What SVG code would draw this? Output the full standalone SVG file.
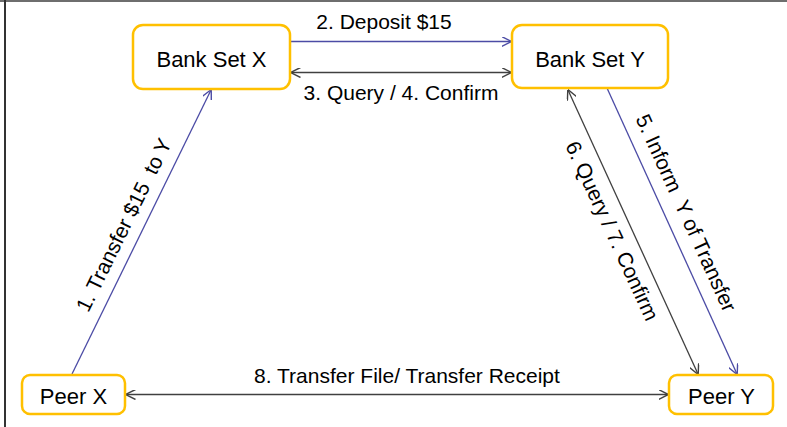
<svg xmlns="http://www.w3.org/2000/svg" width="787" height="427" viewBox="0 0 787 427">
  <style>
    .box { fill: #ffffff; stroke: #FFC000; stroke-width: 2.5; }
    .node-label { font-family: "Liberation Sans", Arial, sans-serif; font-size: 22px; fill: #000000; text-anchor: middle; }
    .edge-label { font-family: "Liberation Sans", Arial, sans-serif; font-size: 21px; fill: #000000; text-anchor: middle; }
    .blue { stroke: #4B4BA5; stroke-width: 1.3; fill: none; }
    .dark { stroke: #404040; stroke-width: 1.3; fill: none; }
  </style>
  <defs>
    <marker id="headBlue" viewBox="0 0 10 10" refX="9.5" refY="5" markerWidth="10" markerHeight="10" markerUnits="userSpaceOnUse" orient="auto-start-reverse">
      <path d="M0,0 L10,5 L0,10" fill="none" stroke="#4B4BA5" stroke-width="1.4"/>
    </marker>
    <marker id="headDark" viewBox="0 0 10 10" refX="9.5" refY="5" markerWidth="10" markerHeight="10" markerUnits="userSpaceOnUse" orient="auto-start-reverse">
      <path d="M0,0 L10,5 L0,10" fill="none" stroke="#404040" stroke-width="1.4"/>
    </marker>
  </defs>

  <rect x="0" y="0" width="787" height="427" fill="#ffffff"/>
  <!-- frame edges -->
  <line x1="0" y1="1" x2="787" y2="1" stroke="#6E6E6E" stroke-width="2"/>
  <line x1="5" y1="0" x2="5" y2="427" stroke="#333333" stroke-width="2"/>

  <g id="connectors">
    <line class="blue" x1="290" y1="41.5" x2="511" y2="41.5" marker-end="url(#headBlue)"/>
    <line class="dark" x1="291" y1="72.5" x2="511" y2="72.5" marker-start="url(#headDark)" marker-end="url(#headDark)"/>
    <line class="blue" x1="72" y1="374" x2="211" y2="90" marker-end="url(#headBlue)"/>
    <line class="blue" x1="607" y1="88" x2="737" y2="374" marker-end="url(#headBlue)"/>
    <line class="dark" x1="568" y1="90" x2="698" y2="374" marker-start="url(#headDark)" marker-end="url(#headDark)"/>
    <line class="dark" x1="126" y1="394.5" x2="668" y2="394.5" marker-start="url(#headDark)" marker-end="url(#headDark)"/>

    <text class="edge-label" x="384" y="29">2. Deposit $15</text>
    <text class="edge-label" x="401" y="100">3. Query / 4. Confirm</text>
    <text class="edge-label" x="407" y="383">8. Transfer File/ Transfer Receipt</text>
    <text class="edge-label" xml:space="preserve" transform="translate(124,225) rotate(-63.8)" y="7">1. Transfer $15  to Y</text>
    <text class="edge-label" xml:space="preserve" transform="translate(686,213) rotate(65.5)" y="7">5. Inform  Y of Transfer</text>
    <text class="edge-label" transform="translate(612,231) rotate(65.3)" y="7">6. Query / 7. Confirm</text>
  </g>

  <g id="bank-set-x">
    <rect class="box" x="133" y="25" width="157" height="64" rx="10"/>
    <text class="node-label" x="211.5" y="67">Bank Set X</text>
  </g>
  <g id="bank-set-y">
    <rect class="box" x="512" y="25" width="156" height="63" rx="10"/>
    <text class="node-label" x="590" y="67">Bank Set Y</text>
  </g>
  <g id="peer-x">
    <rect class="box" x="22" y="375" width="103" height="39" rx="8"/>
    <text class="node-label" x="73.5" y="404">Peer X</text>
  </g>
  <g id="peer-y">
    <rect class="box" x="669" y="375" width="104" height="39" rx="8"/>
    <text class="node-label" x="721.5" y="404">Peer Y</text>
  </g>
</svg>
